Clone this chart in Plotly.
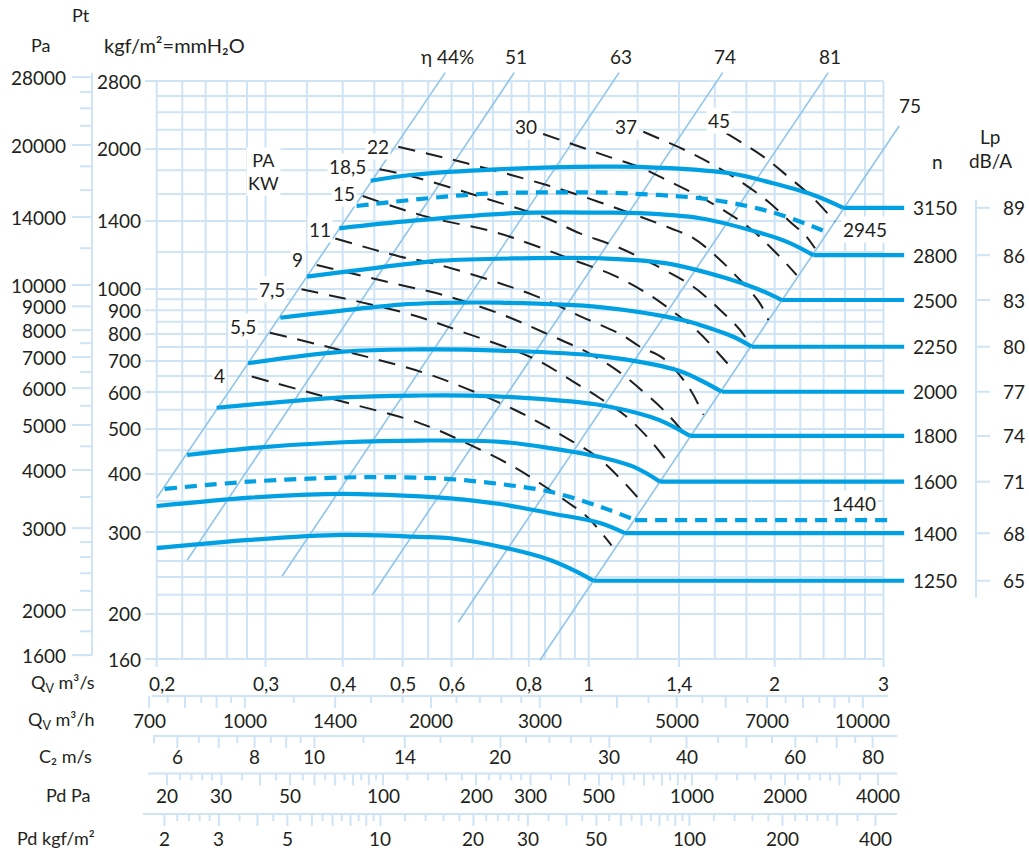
import math
import plotly.graph_objects as go

W, H = 1029, 859

# ---------------- values ----------------
# main grid: Qv (m3/s) and Pt (kgf/m2)
q_grid = [0.2, 0.22, 0.24, 0.26, 0.28, 0.3, 0.35, 0.4, 0.45, 0.5, 0.55, 0.6, 0.65, 0.7, 0.75,
          0.8, 0.85, 0.9, 0.95, 1.0, 1.2, 1.4, 1.6, 1.8, 2.0, 2.2, 2.4, 2.6, 2.8, 3.0]
q_ticks = [0.2, 0.3, 0.4, 0.5, 0.6, 0.8, 1, 1.4, 2, 3]
q_tick_text = ["0,2", "0,3", "0,4", "0,5", "0,6", "0,8", "1", "1,4", "2", "3"]
p_grid = [160, 200, 220, 240, 260, 280, 300, 350, 400, 450, 500, 550, 600, 650, 700, 750,
          800, 850, 900, 950, 1000, 1200, 1400, 1600, 1800, 2000, 2200, 2400, 2600, 2800]
p_ticks = [160, 200, 300, 400, 500, 600, 700, 800, 900, 1000, 1400, 2000, 2800]
pa_ticks = [1600, 2000, 3000, 4000, 5000, 6000, 7000, 8000, 9000, 10000, 14000, 20000, 28000]
pa_minor = [1800, 2200, 2400, 2600, 2800, 3500, 4500, 5500, 6500, 7500,
            12000, 16000, 18000, 22000, 24000, 26000]

# secondary scales under the chart
m3h_ticks = [700, 750, 800, 850, 900, 950, 1000, 1200, 1400, 1600, 1800, 2000, 2200, 2400, 2600,
             2800, 3000, 3500, 4000, 4500, 5000, 5500, 6000, 6500, 7000, 7500, 8000, 8500, 9000,
             9500, 10000]
m3h_long = [700, 800, 900, 1000, 1400, 2000, 3000, 4000, 5000, 6000, 7000, 8000, 9000, 10000]
m3h_labels = [700, 1000, 1400, 2000, 3000, 5000, 7000, 10000]

c2_ticks = [5.5, 6, 6.5, 7, 7.5, 8, 8.5, 9, 9.5, 10, 12, 14, 16, 18, 20, 22, 24, 26, 28, 30,
            35, 40, 45, 50, 55, 60, 65, 70, 75, 80]
c2_long = [6, 7, 8, 9, 10, 14, 20, 30, 40, 50, 60, 70, 80]
c2_labels = [6, 8, 10, 14, 20, 30, 40, 60, 80]

pdpa_ticks = [20, 22, 24, 26, 28, 30, 35, 40, 45, 50, 55, 60, 65, 70, 75, 80, 85, 90, 95, 100,
              120, 140, 160, 180, 200, 220, 240, 260, 280, 300, 350, 400, 450, 500, 550, 600,
              650, 700, 750, 800, 850, 900, 950, 1000, 1200, 1400, 1600, 1800, 2000, 2200,
              2400, 2600, 2800, 3000, 3500, 4000]
pdpa_long = [20, 30, 40, 50, 60, 70, 80, 90, 100, 200, 300, 400, 500, 600, 700, 800, 900,
             1000, 2000, 3000, 4000]
pdpa_labels = [20, 30, 50, 100, 200, 300, 500, 1000, 2000, 4000]

pdkgf_ticks = [2, 2.2, 2.4, 2.6, 2.8, 3, 3.5, 4, 4.5, 5, 5.5, 6, 6.5, 7, 7.5, 8, 8.5, 9, 9.5, 10,
               12, 14, 16, 18, 20, 22, 24, 26, 28, 30, 35, 40, 45, 50, 55, 60, 65, 70, 75, 80,
               85, 90, 95, 100, 120, 140, 160, 180, 200, 220, 240, 260, 280, 300, 350, 400]
pdkgf_long = [2, 3, 4, 5, 6, 7, 8, 9, 10, 20, 30, 40, 50, 60, 70, 80, 90, 100, 200, 300, 400]
pdkgf_labels = [2, 3, 5, 10, 20, 30, 50, 100, 200, 400]

OUTLET_AREA = 0.036   # m2, C2 = Qv / A
RHO = 1.2             # kg/m3, Pd = rho/2 * C2^2
G = 9.81              # Pa per kgf/m2

# fan curves (Qv m3/s, Pt kgf/m2) per speed n (rpm)
q_1250 = [0.200, 0.283, 0.400, 0.534, 0.597, 0.719, 0.866, 0.968, 1.018]
p_1250 = [277, 288.5, 295.7, 292.8, 290.9, 279, 261.3, 244.6, 235.7]
q_1400 = [0.200, 0.283, 0.350, 0.400, 0.534, 0.597, 0.719, 0.866, 1.043, 1.145]
p_1400 = [341.3, 355.7, 361, 362.3, 358, 354.6, 344.7, 329.3, 313.8, 298.3]
q_1440 = [0.206, 0.282, 0.400, 0.496, 0.597, 0.719, 0.866, 1.043, 1.189]
p_1440 = [371.4, 385, 393, 393.5, 390, 380.5, 366.4, 340.2, 318.4]
q_1600 = [0.224, 0.282, 0.400, 0.534, 0.719, 0.866, 1.043, 1.181, 1.305]
p_1600 = [439.4, 454.2, 468, 472, 469, 454.7, 435, 414.7, 385]
q_1800 = [0.250, 0.400, 0.534, 0.667, 0.834, 1.043, 1.257, 1.338, 1.459]
p_1800 = [555.3, 584.7, 590, 589, 580, 562.8, 531, 514, 483]
q_2000 = [0.281, 0.400, 0.534, 0.719, 1.043, 1.388, 1.514, 1.642]
p_2000 = [692, 733, 741, 737, 717, 669, 637, 601]
q_2250 = [0.317, 0.496, 0.575, 0.719, 1.043, 1.421, 1.514, 1.714, 1.836]
p_2250 = [867, 925, 933, 934, 914, 857, 836.5, 789, 751]
q_2500 = [0.350, 0.520, 0.575, 0.755, 1.043, 1.338, 1.672, 1.894, 2.053]
p_2500 = [1063, 1135, 1150, 1163, 1164, 1135, 1054, 995, 946.6]
q_2800 = [0.395, 0.520, 0.755, 1.043, 1.211, 1.514, 1.824, 2.090, 2.310]
p_2800 = [1350, 1402, 1455, 1459, 1455, 1419, 1339, 1264, 1182]
q_2945 = [0.421, 0.667, 0.968, 1.083, 1.514, 1.824, 2.090, 2.442]
p_2945 = [1508, 1600, 1613, 1610, 1567, 1503, 1430, 1321]
q_3150 = [0.444, 0.520, 0.710, 1.043, 1.211, 1.693, 1.989, 2.310, 2.582]
p_3150 = [1709, 1760, 1808, 1832, 1830, 1773, 1687, 1592, 1494]

q_run_out = 3.24        # end of the horizontal run-outs
q_run_out_1440 = 3.11

lp_speeds = [1250, 1400, 1600, 1800, 2000, 2250, 2500, 2800, 3150]
lp_values = [65, 68, 71, 74, 77, 80, 83, 86, 89]

# absorbed power lines (kW)
kw_text = ["4", "5,5", "7,5", "9", "11", "15", "18,5", "22", "30", "37", "45"]
q_kw4 = [0.285, 0.391, 0.534, 0.643, 0.755, 0.834, 0.921, 0.993, 1.089]
p_kw4 = [648, 577, 514, 462, 415, 382, 349, 324, 281]
q_kw55 = [0.305, 0.534, 0.643, 0.760, 0.845, 0.933, 1.030, 1.131, 1.226]
p_kw55 = [805, 664, 606, 549, 510, 473, 436, 388, 345]
q_kw75 = [0.343, 0.508, 0.612, 0.814, 0.944, 1.043, 1.152, 1.257, 1.354]
p_kw75 = [998, 886, 816, 709, 632, 582, 531, 473, 418]
q_kw9 = [0.363, 0.496, 0.582, 0.727, 0.850, 1.000, 1.110, 1.226, 1.338, 1.450]
p_kw9 = [1126, 1020, 970, 879, 804, 728, 669, 601, 540, 477]
q_kw11 = [0.389, 0.496, 0.561, 0.814, 0.976, 1.132, 1.211, 1.321, 1.450, 1.533]
p_kw11 = [1284, 1173, 1135, 970, 870, 796, 751, 709, 616, 536]
q_kw15 = [0.431, 0.547, 0.701, 0.814, 0.944, 1.096, 1.242, 1.371, 1.504, 1.631, 1.714]
p_kw15 = [1584, 1430, 1328, 1243, 1154, 1071, 979, 893, 809, 721, 669]
q_kw185 = [0.459, 0.520, 0.667, 0.855, 0.968, 1.110, 1.280, 1.477, 1.621, 1.758, 1.813]
p_kw185 = [1808, 1743, 1579, 1419, 1317, 1233, 1126, 1011, 909, 816, 770]
q_kw22 = [0.492, 0.635, 0.784, 0.944, 1.167, 1.354, 1.477, 1.611, 1.758, 1.893, 1.953]
p_kw22 = [2022, 1863, 1729, 1606, 1456, 1352, 1286, 1173, 1045, 931, 857]
q_kw30 = [0.844, 0.968, 1.076, 1.204, 1.354, 1.496, 1.652, 1.824, 1.989, 2.171]
p_kw30 = [2154, 2022, 1925, 1832, 1701, 1592, 1478, 1350, 1213, 1071]
q_kw37 = [1.226, 1.450, 1.611, 1.779, 1.953, 2.117, 2.240, 2.324]
p_kw37 = [2178, 1973, 1832, 1687, 1540, 1395, 1306, 1223]
q_kw45 = [1.672, 1.917, 2.104, 2.296, 2.504]
p_kw45 = [2160, 1925, 1743, 1579, 1395]

# efficiency lines
eta_text = ["\u03b7 44%", "51", "63", "74", "81", "75"]
eta_q0 = [0.200, 0.224, 0.319, 0.447, 0.615, 0.834]
eta_p0 = [355, 261, 241, 220, 192, 159]
eta_q1 = [0.586, 0.758, 1.120, 1.648, 2.442, 3.180]
eta_p1 = [2918, 2918, 2918, 2918, 2918, 2240]

# ---------------- styling ----------------
GRID = "#cfe4f5"
DIAG = "#8fc5ea"
BLUE = "#00a0e3"
INK = "#231f20"
FONT = "Lato, DejaVu Sans, sans-serif"

# pixel anchors of the main scales
dec_x = (883.5 - 156.7) / math.log10(3.0 / 0.2)
dec_y = (659.0 - 81.0) / math.log10(2800.0 / 160.0)
x_lo = math.log10(0.2) - 156.7 / dec_x
x_hi = x_lo + W / dec_x
y_lo = math.log10(160.0) - (H - 659.0) / dec_y
y_hi = y_lo + H / dec_y


def q_at(px):
    return 10 ** (x_lo + px / dec_x)


def p_at(py):
    return 10 ** (y_lo + (H - py) / dec_y)


def xp(px):
    return px / W


def yp(py):
    return 1 - py / H


def q_from_m3h(v):
    return v / 3600.0


def q_from_c2(v):
    return v * OUTLET_AREA


def q_from_pdpa(v):
    return math.sqrt(2 * v / RHO) * OUTLET_AREA


def q_from_pdkgf(v):
    return q_from_pdpa(v * G)


fig = go.Figure()


def add_segments(pairs, color, width):
    xs, ys = [], []
    for xa, ya, xb, yb in pairs:
        xs += [xa, xb, None]
        ys += [ya, yb, None]
    fig.add_trace(go.Scatter(x=xs, y=ys, mode="lines", line=dict(color=color, width=width),
                             hoverinfo="skip", showlegend=False))


def add_line(xs, ys, color, width, dash="solid", spline=False):
    line = dict(color=color, width=width, dash=dash)
    if spline:
        line["shape"] = "spline"
        line["smoothing"] = 1.0
    fig.add_trace(go.Scatter(x=xs, y=ys, mode="lines", line=line,
                             hoverinfo="skip", showlegend=False))


annotations = []


def note(text, x, y, xref="paper", yref="paper", xanchor="center", yanchor="middle",
         size=19, bg=None, xshift=0, yshift=0):
    a = dict(text=text, x=x, y=y, xref=xref, yref=yref, xanchor=xanchor, yanchor=yanchor,
             showarrow=False, font=dict(family=FONT, size=size, color=INK),
             xshift=xshift, yshift=yshift, borderpad=1)
    if bg:
        a["bgcolor"] = bg
    annotations.append(a)


# ---- grid ----
grid = [(q, 160, q, 2800) for q in q_grid]
grid += [(q, p_at(667), q, 160) for q in q_ticks]
grid += [(q_at(145) if p in p_ticks else 0.2, p, 3.0, p) for p in p_grid]
add_segments(grid, GRID, 2)

# ---- left Pa axis ----
pa_axis = [(q_at(92), pa_ticks[0] / G, q_at(92), p_at(73))]
pa_axis += [(q_at(72), v / G, q_at(92), v / G) for v in pa_ticks]
pa_axis += [(q_at(80), v / G, q_at(92), v / G) for v in pa_minor]
add_segments(pa_axis, GRID, 2)

# ---- secondary scales below ----
rows = [
    (m3h_ticks, m3h_long, m3h_labels, q_from_m3h, 696.0, 152, 888, 720.0),
    (c2_ticks, c2_long, c2_labels, q_from_c2, 736.0, 153, 897, 756.0),
    (pdpa_ticks, pdpa_long, pdpa_labels, q_from_pdpa, 773.5, 148, 897, 795.0),
    (pdkgf_ticks, pdkgf_long, pdkgf_labels, q_from_pdkgf, 814.0, 143, 897, 838.5),
]
scale_segs = []
for ticks, longs, labels, conv, ly, x0, x1, ty in rows:
    scale_segs.append((q_at(x0), p_at(ly), q_at(x1), p_at(ly)))
    for v in ticks:
        ln = 12 if v in longs else 7
        scale_segs.append((conv(v), p_at(ly), conv(v), p_at(ly + ln)))
    for v in labels:
        note(f"{v:g}", math.log10(conv(v)), yp(ty), xref="x")
add_segments(scale_segs, GRID, 2)

# ---- efficiency lines ----
for i in range(len(eta_text)):
    add_line([eta_q0[i], eta_q1[i]], [eta_p0[i], eta_p1[i]], DIAG, 1.6)

# ---- power lines ----
kw_q = [q_kw4, q_kw55, q_kw75, q_kw9, q_kw11, q_kw15, q_kw185, q_kw22, q_kw30, q_kw37, q_kw45]
kw_p = [p_kw4, p_kw55, p_kw75, p_kw9, p_kw11, p_kw15, p_kw185, p_kw22, p_kw30, p_kw37, p_kw45]
kw_shift = [(-32, 1), (-27, 6), (-29, 0), (-19, 5), (-15, 9), (-19, 3), (-32, 3), (-20, 0),
            (-17, 7), (-17, 5), (-8, 13)]
for qs, ps, txt, (sx, sy) in zip(kw_q, kw_p, kw_text, kw_shift):
    add_line(qs, ps, "#1f1f1f", 2, dash="17px,11px", spline=True)
    note(txt, math.log10(qs[0]), math.log10(ps[0]), xref="x", yref="y", bg="white",
         xshift=sx, yshift=sy)

# ---- fan curves ----
curves = [
    (1250, q_1250, p_1250, False), (1400, q_1400, p_1400, False),
    (1440, q_1440, p_1440, True), (1600, q_1600, p_1600, False),
    (1800, q_1800, p_1800, False), (2000, q_2000, p_2000, False),
    (2250, q_2250, p_2250, False), (2500, q_2500, p_2500, False),
    (2800, q_2800, p_2800, False), (2945, q_2945, p_2945, True),
    (3150, q_3150, p_3150, False),
]
knee_p = {}
for n, qs, ps, dashed in curves:
    knee_p[n] = ps[-1]
    dash = "12px,8px" if dashed else "solid"
    add_line(qs, ps, BLUE, 4.2, dash=dash, spline=True)
    if n == 2945:
        continue
    end = q_run_out_1440 if n == 1440 else q_run_out
    add_line([qs[-1], end], [ps[-1], ps[-1]], BLUE, 4.2, dash=dash)

# ---- Lp scale on the right ----
lp_segs = [(q_at(976), p_at(200), q_at(976), p_at(598))]
lp_segs += [(q_at(976), knee_p[n], q_at(990), knee_p[n]) for n in lp_speeds]
add_segments(lp_segs, GRID, 2)

# ---- text ----
for p in p_ticks:
    note(str(p), xp(143), math.log10(p), yref="y", xanchor="right")
for v in pa_ticks:
    note(str(v), xp(68), math.log10(v / G), yref="y", xanchor="right")
for q, t in zip(q_ticks, q_tick_text):
    note(t, math.log10(q), yp(683), xref="x", xshift=5 if q == 0.2 else 0)

for n, qs, ps, dashed in curves:
    if n in (1440, 2945):
        continue
    note(str(n), xp(911), math.log10(ps[-1]), yref="y", xanchor="left")
for n, v in zip(lp_speeds, lp_values):
    note(str(v), xp(1001), math.log10(knee_p[n]), yref="y", xanchor="left")

note("2945", math.log10(q_2945[-1]), math.log10(p_2945[-1]), xref="x", yref="y",
     bg="white", xshift=37, yshift=3)
note("1440", math.log10(q_run_out_1440), math.log10(knee_p[1440]), xref="x", yref="y",
     bg="white", xshift=-39, yshift=17)

for i, t in enumerate(eta_text):
    sx, sy = (11, 21) if t == "75" else (2, 16)
    note(t, math.log10(eta_q1[i]), math.log10(eta_p1[i]), xref="x", yref="y",
         xshift=sx, yshift=sy)

note("PA<br>KW", xp(263), yp(171), bg="white", size=18)

note("Pt", xp(81), yp(15), size=18)
note("Pa", xp(40), yp(45), size=18)
note("kgf/m\u00b2=mmH\u2082O", xp(102), yp(45), xanchor="left", size=20)
note("n", xp(937), yp(162))
note("Lp", xp(990), yp(137))
note("dB/A", xp(990), yp(161))

note("Q<sub>V</sub> m\u00b3/s", xp(97), yp(683), xanchor="right", size=18)
note("Q<sub>V</sub> m\u00b3/h", xp(97), yp(720), xanchor="right", size=18)
note("C\u2082 m/s", xp(94), yp(756), xanchor="right", size=18)
note("Pd Pa", xp(92), yp(795), xanchor="right", size=18)
note("Pd kgf/m\u00b2", xp(97), yp(838), xanchor="right", size=18)

fig.update_layout(
    width=W, height=H, autosize=False,
    margin=dict(l=0, r=0, t=0, b=0, pad=0),
    paper_bgcolor="white", plot_bgcolor="white",
    showlegend=False,
    font=dict(family=FONT, size=19, color=INK),
    xaxis=dict(type="log", range=[x_lo, x_hi], visible=False, fixedrange=True),
    yaxis=dict(type="log", range=[y_lo, y_hi], visible=False, fixedrange=True),
    annotations=annotations,
)

fig.write_html("out.html", include_plotlyjs=True, full_html=True,
               config={"displayModeBar": False, "staticPlot": True},
               post_script="document.body.style.margin='0';document.body.style.overflow='hidden';")
